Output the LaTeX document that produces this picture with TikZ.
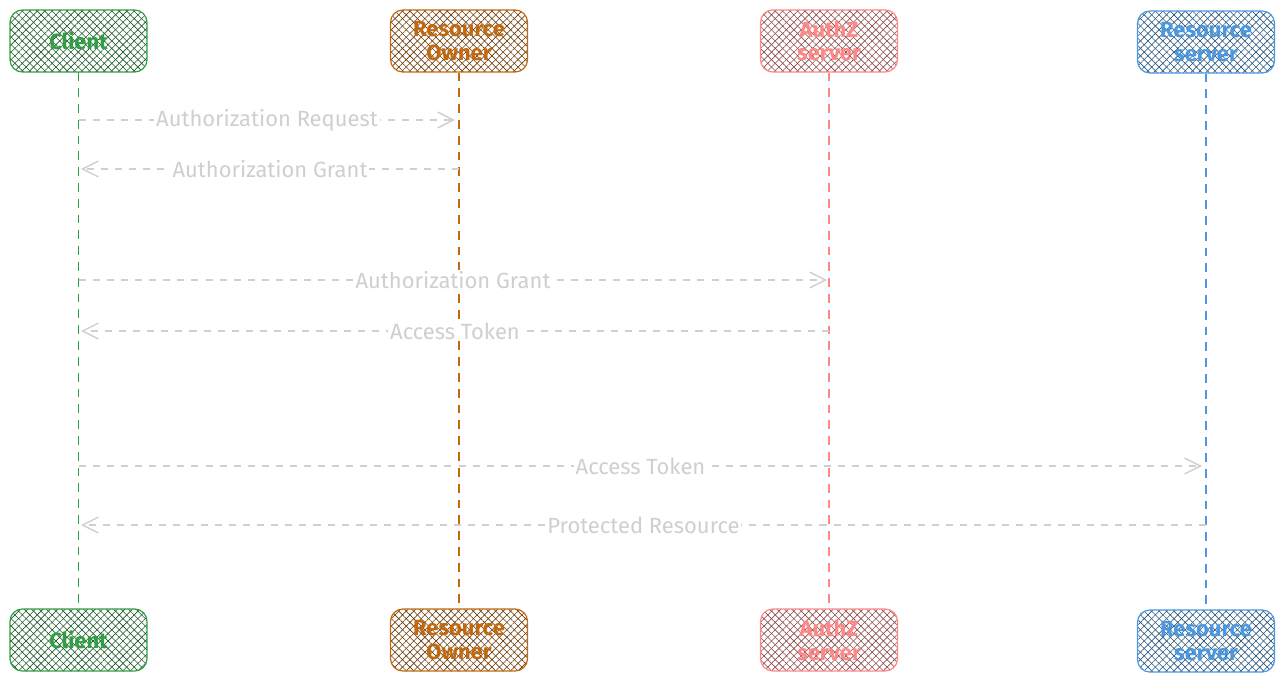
\documentclass[tikz,border=0pt]{standalone}
\usepackage{fontspec}
\setmainfont{Fira Sans}
\usetikzlibrary{arrows.meta,patterns.meta}

\definecolor{clientgreen}{HTML}{2F9E44}
\definecolor{ownerbrown}{HTML}{C2690F}
\definecolor{authred}{HTML}{FF8787}
\definecolor{rsblue}{HTML}{4A98E0}
\definecolor{msggray}{HTML}{CFCFCF}

\begin{document}
\begin{tikzpicture}[x=0.02cm,y=-0.02cm,
  actor/.style={draw=#1, line width=0.7pt, rounded corners=7pt,
    minimum width=2.74cm, minimum height=1.24cm, align=center,
    text=#1, font=\fontsize{12.5}{13.5}\selectfont\bfseries,
    preaction={pattern={Lines[angle=45,distance=3pt,line width=0.35pt]}, pattern color=#1!55!black},
    pattern={Lines[angle=-45,distance=3pt,line width=0.35pt]}, pattern color=#1!55!black},
  lifeline/.style={draw=#1, line width=0.8pt, dash pattern=on 5pt off 4pt},
  msg/.style={draw=msggray, line width=0.8pt, dash pattern=on 4pt off 4pt,
    -{Straight Barb[length=9pt,width=9pt]}},
  lbl/.style={midway, fill=white, text=msggray, inner sep=1pt, font=\fontsize{12.5}{13.5}\selectfont}]
\useasboundingbox (0,0) rectangle (1284,682);

\node[actor=clientgreen] (cT) at (78.5,41) {Client};
\node[actor=ownerbrown] (oT) at (459,41) {Resource\\Owner};
\node[actor=authred] (aT) at (829,41) {AuthZ\\server};
\node[actor=rsblue] (rT) at (1206,42) {Resource\\server};

\node[actor=clientgreen] (cB) at (78.5,640) {Client};
\node[actor=ownerbrown] (oB) at (459,640) {Resource\\Owner};
\node[actor=authred] (aB) at (829,640) {AuthZ\\server};
\node[actor=rsblue] (rB) at (1206,641) {Resource\\server};

\draw[lifeline=clientgreen] (cT) -- (cB);
\draw[lifeline=ownerbrown] (oT) -- (oB);
\draw[lifeline=authred] (aT) -- (aB);
\draw[lifeline=rsblue] (rT) -- (rB);

\coordinate (c1) at (79,120);
\coordinate (o1) at (455,120);
\coordinate (o2) at (459,169);
\coordinate (c2) at (81,169);
\coordinate (c3) at (79,280);
\coordinate (a3) at (827,280);
\coordinate (a4) at (829,331);
\coordinate (c4) at (81,331);
\coordinate (c5) at (79,466);
\coordinate (r5) at (1202,466);
\coordinate (r6) at (1206,525);
\coordinate (c6) at (81,525);

\draw[msg] (c1) -- (o1) node[lbl] {Authorization Request};
\draw[msg] (o2) -- (c2) node[lbl] {Authorization Grant};
\draw[msg] (c3) -- (a3) node[lbl] {Authorization Grant};
\draw[msg] (a4) -- (c4) node[lbl] {Access Token};
\draw[msg] (c5) -- (r5) node[lbl] {Access Token};
\draw[msg] (r6) -- (c6) node[lbl] {Protected Resource};
\end{tikzpicture}
\end{document}
